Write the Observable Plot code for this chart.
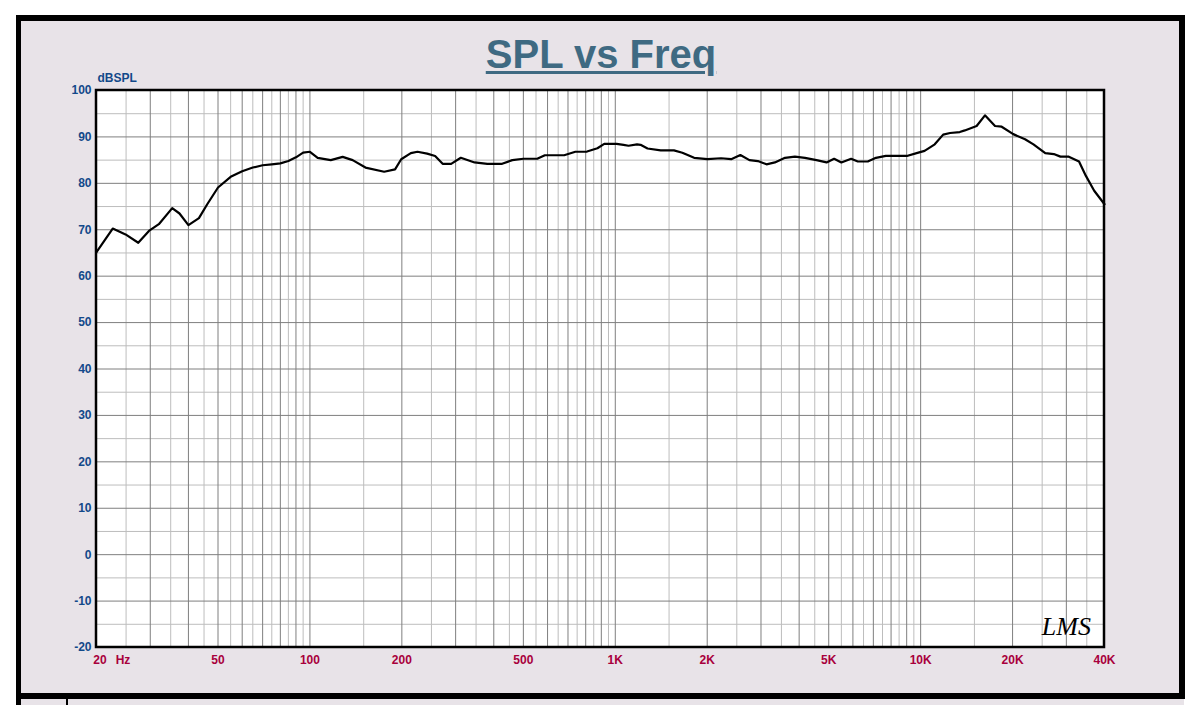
<!DOCTYPE html>
<html>
<head>
<meta charset="utf-8">
<script src="https://cdn.jsdelivr.net/npm/d3@7/dist/d3.min.js"></script>
<script src="https://cdn.jsdelivr.net/npm/@observablehq/plot@0.6/dist/plot.umd.min.js"></script>
<style>
  html, body { margin: 0; padding: 0; background: #ffffff; }
  body { width: 1200px; height: 705px; position: relative; overflow: hidden; font-family: "Liberation Sans", Arial, sans-serif; }
  #outer { position: absolute; left: 16px; top: 15px; width: 1169px; height: 684px; box-sizing: border-box;
           border-style: solid; border-color: #000; border-width: 6px 6px 6px 5px; background: #E8E3E8; }
  #lower { position: absolute; left: 16px; top: 699px; width: 1168px; height: 20px; box-sizing: border-box;
           border-left: 5px solid #000; background: #E8E3E8; }
  #tick { position: absolute; left: 66px; top: 699px; width: 2px; height: 10px; background: #000; }
  #title { position: absolute; left: 0; top: 34px; width: 1202px; text-align: center; font-size: 40px; line-height: 40px;
           font-weight: bold; color: #3F6A82; font-family: "Liberation Sans", Arial, sans-serif;
           text-decoration: underline; text-decoration-thickness: 3px; text-underline-offset: 3px; }
  #chart { position: absolute; left: 0; top: 0; width: 1200px; height: 705px; }
  #err { position: absolute; left: 100px; top: 200px; color: red; font-size: 14px; white-space: pre-wrap; width: 1000px; }
</style>
</head>
<body>
<div id="outer"></div>
<div id="lower"></div>
<div id="tick"></div>
<div id="title">SPL vs Freq</div>
<div id="chart"></div>
<div id="err"></div>
<script>
// Frequency response readings (Hz, dB SPL)
const freqHz = [20, 22.6, 24.9, 27.4, 29.7, 32, 35.4, 37.4, 40, 43.3, 46.1, 50, 55, 60, 65, 70, 75, 80, 85, 90, 95, 100,
  106, 117, 128, 138, 152, 175, 190, 199, 214, 225, 242, 257, 272, 290, 312, 346, 381, 426, 460, 500, 555, 588, 680,
  740, 808, 874, 920, 1010, 1064, 1105, 1178, 1210, 1275, 1408, 1556, 1658, 1812, 2003, 2220, 2396, 2568, 2750, 2930,
  3128, 3331, 3596, 3875, 4180, 4560, 4918, 5207, 5500, 5920, 6226, 6712, 7138, 7690, 9010, 9700, 10300, 11120, 11850,
  12480, 13430, 13950, 15250, 16240, 17520, 18420, 20100, 21970, 23410, 25590, 27290, 28690, 30560, 33010, 34770,
  37010, 40000];
const splDb = [65.2, 70.25, 69.0, 67.2, 69.75, 71.2, 74.65, 73.5, 71.0, 72.5, 75.5, 79.1, 81.4, 82.6, 83.4, 83.9, 84.1,
  84.3, 84.8, 85.6, 86.6, 86.8,
  85.5, 85.0, 85.7, 85.0, 83.4, 82.5, 83.0, 85.2, 86.5, 86.8, 86.4, 85.9, 84.2, 84.2, 85.5, 84.5, 84.2, 84.2, 85.0, 85.3,
  85.3, 86.05, 86.05,
  86.8, 86.85, 87.55, 88.5, 88.5, 88.3, 88.1, 88.4, 88.3, 87.5, 87.1, 87.1, 86.6, 85.5, 85.2, 85.4, 85.2, 86.1, 85.0, 84.8,
  84.1, 84.5, 85.5, 85.75, 85.5, 85.0, 84.5, 85.3, 84.5, 85.3, 84.7, 84.7, 85.5, 85.9, 85.9, 86.5, 87.0, 88.4, 90.5,
  90.85, 91.05, 91.4, 92.35, 94.65, 92.35, 92.2, 90.6, 89.5, 88.4, 86.5, 86.3, 85.75, 85.75, 84.7, 81.6,
  78.4, 75.5];

// Axis tick labels
const xTickValues = [50, 100, 200, 500, 1000, 2000, 5000, 10000, 20000, 40000];
const xTickLabels = ["50", "100", "200", "500", "1K", "2K", "5K", "10K", "20K", "40K"];
const yTickValues = [100, 90, 80, 70, 60, 50, 40, 30, 20, 10, 0, -10, -20];
const yTickLabels = ["100", "90", "80", "70", "60", "50", "40", "30", "20", "10", "0", "-10", "-20"];

// Grid lines (dark at whole steps, light at half steps)
const xMajorGrid = [30, 40, 50, 60, 70, 80, 90, 100, 200, 300, 400, 500, 600, 700, 800, 900, 1000,
  2000, 3000, 4000, 5000, 6000, 7000, 8000, 9000, 10000, 20000, 30000];
const xMinorGrid = [25, 35, 45, 55, 65, 75, 85, 95, 150, 250, 350, 450, 550, 650, 750, 850, 950,
  1500, 2500, 3500, 4500, 5500, 6500, 7500, 8500, 9500, 15000, 25000, 35000];
const yMajorGrid = [90, 80, 70, 60, 50, 40, 30, 20, 10, 0, -10];
const yMinorGrid = [95, 85, 75, 65, 55, 45, 35, 25, 15, 5, -5, -15];

try {
  const data = freqHz.map((f, i) => ({f, db: splDb[i]}));
  const font = "Liberation Sans, Arial, sans-serif";
  const blue = "#12498A";
  const red = "#A8003C";
  const yTicks = yTickValues.map((v, i) => ({v, label: yTickLabels[i]}));
  const xTicks = xTickValues.map((v, i) => ({v, label: xTickLabels[i]}));

  const chart = Plot.plot({
    width: 1200,
    height: 705,
    marginLeft: 96,
    marginRight: 96,
    marginTop: 90,
    marginBottom: 58,
    style: {background: "transparent", overflow: "visible"},
    x: {type: "log", domain: [20, 40000], axis: null},
    y: {domain: [-20, 100], axis: null},
    marks: [
      Plot.rect([{}], {x1: 20, x2: 40000, y1: -20, y2: 100, fill: "white"}),
      Plot.ruleX(xMinorGrid, {x: d => d, stroke: "#BDBDBD", strokeWidth: 1}),
      Plot.ruleY(yMinorGrid, {y: d => d, stroke: "#BDBDBD", strokeWidth: 1}),
      Plot.ruleX(xMajorGrid, {x: d => d, stroke: "#7F7F7F", strokeWidth: 1}),
      Plot.ruleY(yMajorGrid, {y: d => d, stroke: "#7F7F7F", strokeWidth: 1}),
      Plot.line(data, {x: "f", y: "db", stroke: "black", strokeWidth: 2.2, strokeLinejoin: "round"}),
      Plot.rect([{}], {x1: 20, x2: 40000, y1: -20, y2: 100, fill: "none", stroke: "black", strokeWidth: 2.5}),
      Plot.text(yTicks, {x: 20, y: "v", text: "label", textAnchor: "end", dx: -5,
        fill: blue, fontWeight: "bold", fontSize: 12, fontFamily: font}),
      Plot.text([{t: "dBSPL"}], {x: 20, y: 100, text: "t", textAnchor: "start", dx: 1, dy: -12,
        fill: blue, fontWeight: "bold", fontSize: 12, fontFamily: font}),
      Plot.text(xTicks, {x: "v", y: -20, text: "label", textAnchor: "middle", dy: 13,
        fill: red, fontWeight: "bold", fontSize: 12, fontFamily: font}),
      Plot.text([{t: "20"}], {x: 20, y: -20, text: "t", textAnchor: "middle", dx: 3.5, dy: 13,
        fill: red, fontWeight: "bold", fontSize: 12, fontFamily: font}),
      Plot.text([{t: "Hz"}], {x: 20, y: -20, text: "t", textAnchor: "middle", dx: 26.5, dy: 13,
        fill: red, fontWeight: "bold", fontSize: 12, fontFamily: font}),
      Plot.text([{t: "LMS"}], {x: 30000, y: -15.5, text: "t", textAnchor: "middle",
        fill: "black", fontSize: 26, fontStyle: "italic", fontFamily: "Liberation Serif, serif"})
    ]
  });
  document.getElementById("chart").appendChild(chart);
} catch (e) {
  document.getElementById("err").textContent = String(e && e.stack || e);
}
</script>
</body>
</html>
